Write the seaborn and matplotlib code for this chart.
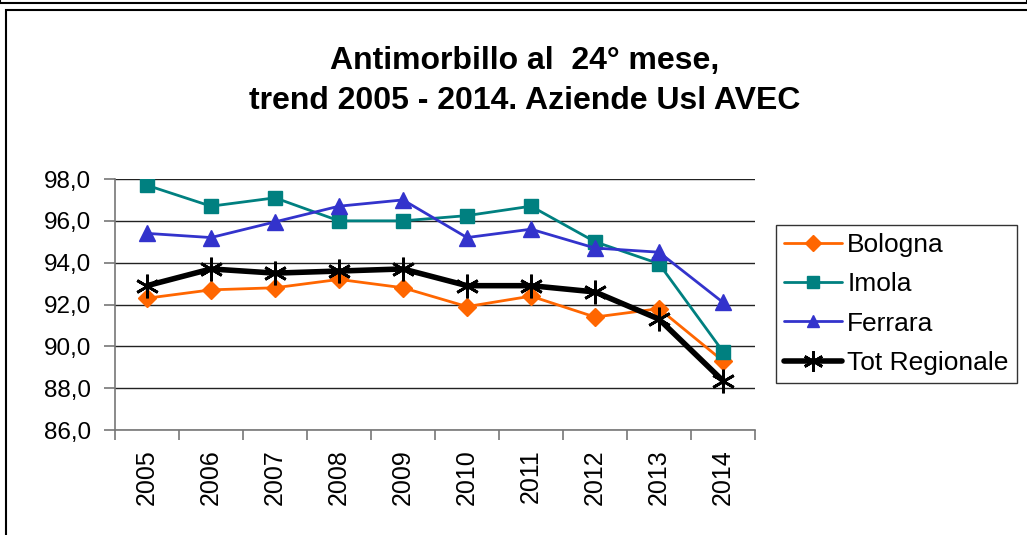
import matplotlib
matplotlib.use("Agg")
import matplotlib.pyplot as plt
import seaborn as sns
import pandas as pd
from matplotlib.lines import Line2D
from matplotlib.patches import Rectangle

years = ["2005", "2006", "2007", "2008", "2009", "2010", "2011", "2012", "2013", "2014"]
bologna = [92.3, 92.7, 92.8, 93.2, 92.8, 91.9, 92.4, 91.4, 91.8, 89.3]
imola = [97.7, 96.7, 97.1, 96.0, 96.0, 96.25, 96.7, 95.0, 93.95, 89.75]
ferrara = [95.4, 95.2, 95.95, 96.7, 97.0, 95.2, 95.6, 94.7, 94.5, 92.1]
tot_regionale = [92.9, 93.7, 93.5, 93.6, 93.7, 92.9, 92.9, 92.6, 91.3, 88.35]
series_names = ["Bologna", "Imola", "Ferrara", "Tot Regionale"]

sns.set_theme(style="white")
plt.rcParams['font.family'] = ['Liberation Sans', 'DejaVu Sans']
plt.rcParams['text.color'] = 'black'
plt.rcParams['xtick.color'] = 'black'
plt.rcParams['ytick.color'] = 'black'

fig = plt.figure(figsize=(10.27, 5.35), dpi=100)
ax = fig.add_axes([115/1027, 1-430/535, 640/1027, 251/535])

idx = list(range(len(years)))
styles = {
    "Bologna": dict(color="#FF6600", marker="D", markersize=9, lw=2),
    "Imola": dict(color="#008080", marker="s", markersize=10, lw=2),
    "Ferrara": dict(color="#3333CC", marker="^", markersize=11, lw=2),
    "Tot Regionale": dict(color="black", marker=(6, 2, 0), markersize=17, lw=4),
}
data = {"Bologna": bologna, "Imola": imola, "Ferrara": ferrara, "Tot Regionale": tot_regionale}

handles = []
for name in series_names:
    st = styles[name]
    df = pd.DataFrame({"x": idx, "y": data[name]})
    mew = 2 if name == "Tot Regionale" else 1
    sns.lineplot(data=df, x="x", y="y", ax=ax, color=st["color"], linewidth=st["lw"],
                 marker=st["marker"], markersize=st["markersize"],
                 markeredgecolor=st["color"], markerfacecolor=st["color"],
                 markeredgewidth=mew, zorder=3)
    handles.append(Line2D([], [], color=st["color"], lw=st["lw"], marker=st["marker"],
                          markersize=st["markersize"] * 0.85, markeredgecolor=st["color"],
                          markerfacecolor=st["color"], markeredgewidth=mew))

ax.set_xlim(-0.5, 9.5)
ax.set_ylim(86, 98)
yt = [86, 88, 90, 92, 94, 96, 98]
ax.set_yticks(yt)
ax.set_yticklabels([f"{v:.1f}".replace(".", ",") for v in yt], fontsize=17.5)
ax.yaxis.grid(True, color="#222222", lw=1)
ax.set_axisbelow(True)

ax.set_xticks([i - 0.5 for i in range(11)])
ax.set_xticklabels([])
ax.set_xticks(idx, minor=True)
ax.set_xticklabels(years, minor=True, rotation=90, fontsize=18)
ax.tick_params(axis="x", which="major", direction="out", length=7, color="#777777", width=1.2, bottom=True)
ax.tick_params(axis="x", which="minor", length=0, pad=14)
ax.tick_params(axis="y", direction="out", length=8, color="#777777", width=1.2, left=True, pad=9)
ax.set_xlabel("")
ax.set_ylabel("")
for s in ["top", "right"]:
    ax.spines[s].set_visible(False)
for s in ["left", "bottom"]:
    ax.spines[s].set_color("#777777")
    ax.spines[s].set_linewidth(1.2)

leg = ax.legend(handles, series_names, loc="upper left", bbox_to_anchor=(776/1027, 1-225/535),
                bbox_transform=fig.transFigure, fontsize=19, frameon=True, fancybox=False,
                edgecolor="black", handlelength=2.2, handletextpad=0.2, borderpad=0.3,
                labelspacing=0.58, borderaxespad=0)
leg.get_frame().set_linewidth(1)

fig.text(525/1027, 1-61/535, "Antimorbillo al  24° mese,", ha="center", va="center",
         fontsize=23, fontweight="bold")
fig.text(525/1027, 1-101/535, "trend 2005 - 2014. Aziende Usl AVEC", ha="center", va="center",
         fontsize=23, fontweight="bold")

# frames
fig.add_artist(Line2D([0, 1], [1-3/535, 1-3/535], transform=fig.transFigure, color="black", lw=1.5))
fig.add_artist(Line2D([0, 0], [1-3/535, 1], transform=fig.transFigure, color="black", lw=1.5))
fig.add_artist(Line2D([1, 1], [1-3/535, 1], transform=fig.transFigure, color="black", lw=1.5))
fig.add_artist(Rectangle((6/1027, -0.05), 1.1, 1-10/535 + 0.05, transform=fig.transFigure,
                         fill=False, edgecolor="black", lw=1.5))

fig.savefig("out.png", dpi=100)
